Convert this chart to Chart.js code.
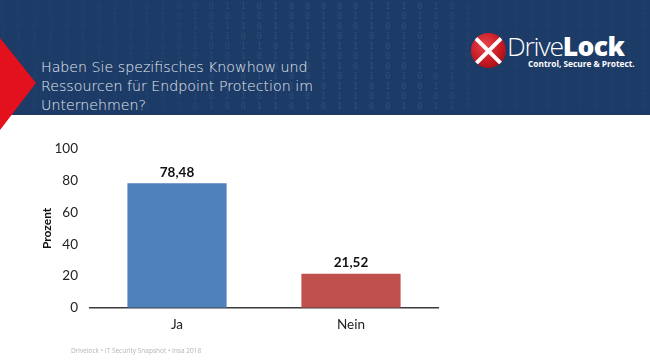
<!DOCTYPE html>
<html>
<head>
<meta charset="utf-8">
<script src="https://cdn.jsdelivr.net/npm/chart.js@4.4.1/dist/chart.umd.min.js"></script>
<style>
  html, body { margin: 0; padding: 0; background: #fff; }
  #page { position: relative; width: 650px; height: 364px; overflow: hidden; background: #fff; }
  #header { position: absolute; left: 0; top: 0; width: 650px; height: 115px; background: #1c3b66; overflow: hidden; }
  #binary { position: absolute; left: 0; top: 1px; width: 650px; font: 9px 'DejaVu Sans Mono', monospace; line-height: 10px; letter-spacing: 2.6px; color: rgba(170, 195, 230, 0.13); white-space: pre;
    -webkit-mask-image: linear-gradient(90deg, rgba(0,0,0,0.3) 0%, rgba(0,0,0,0.45) 25%, #000 40%, #000 65%, rgba(0,0,0,0.3) 75%, rgba(0,0,0,0.4) 100%); }
  #redmark { position: absolute; left: 0; top: 38px; width: 36px; height: 92px; background: #e3101e; clip-path: polygon(0 0, 100% 49%, 0 100%); }
  #title { position: absolute; left: 41px; top: 58px; font: 200 14.2px 'DejaVu Sans', sans-serif; line-height: 19px; color: #e4e9f0; }
  #logo { position: absolute; left: 471px; top: 32px; width: 170px; height: 40px; }
  #logo .ball { position: absolute; left: 0; top: 1px; width: 35px; height: 35px; border-radius: 50%; background: radial-gradient(circle at 40% 35%, #e8444b 0%, #c41822 55%, #7c0c12 100%); overflow: hidden; }
  #logo .ball i { position: absolute; left: -4px; top: 15.5px; width: 43px; height: 4px; background: #fff; }
  #logo .ball i.a { transform: rotate(45deg); }
  #logo .ball i.b { transform: rotate(-45deg); }
  #logo .name { position: absolute; left: 36px; top: -4px; font: 300 26.5px 'Open Sans', sans-serif; color: #fff; letter-spacing: -1.2px; white-space: nowrap; }
  #logo .name b { font-weight: 800; letter-spacing: -0.6px; }
  #logo .tag { position: absolute; left: 57px; top: 26px; font: 700 8.3px 'Open Sans', sans-serif; color: #fff; white-space: nowrap; }
  #chartbox { position: absolute; left: 0; top: 115px; width: 650px; height: 249px; }
  #footer { position: absolute; left: 71px; top: 346px; font: 6.5px 'Open Sans', sans-serif; color: #b4b4b4; white-space: nowrap; }
</style>
</head>
<body>
<div id="page">
  <div id="header">
    <div id="binary">0 0 1 0 1 0 0 1 1 0 1 0 0 0 1 1 0 1 0 0 0 0 0 1 1 1 0 1 0 0 0 0 1 0 1 1 0 1 1 1 1 1 0 0 1 0 1 0 1 0 0 1 1 0 1 0 1 0 0 1 1 0 1
0 0 1 1 1 0 0 1 0 1 1 0 1 0 0 1 0 1 0 0 1 0 1 1 1 0 1 1 0 1 1 1 1 1 1 0 0 0 1 0 1 0 1 1 0 0 1 0 1 1 0 0 0 1 0 1 0 0 1 1 1 0 1
1 0 0 1 0 0 1 1 0 1 1 0 1 0 1 1 0 1 0 1 1 0 0 1 0 0 1 0 0 0 1 0 1 0 0 1 0 0 1 1 0 1 0 1 1 0 0 1 1 0 1 0 1 1 0 0 1 1 0 1 0 0 1
1 1 1 1 0 1 0 0 1 0 1 0 1 1 1 0 0 1 1 1 1 0 1 0 1 1 0 1 0 0 1 0 1 1 0 1 0 1 0 0 1 1 0 1 0 1 0 0 0 1 1 0 1 0 0 1 1 0 1 0 1 1 0
0 1 0 0 1 1 0 1 0 1 0 0 1 0 0 1 1 0 1 0 1 1 1 1 0 1 1 0 0 1 0 0 1 1 0 1 0 0 1 1 0 1 0 1 0 1 1 0 1 0 0 1 1 0 1 1 0 1 0 0 1 0 1
1 0 1 1 0 0 1 0 1 0 1 1 0 1 0 1 0 1 0 1 0 0 0 1 0 1 1 1 0 0 1 1 0 1 0 0 1 0 1 1 0 1 0 0 1 1 0 1 0 1 0 0 1 0 1 1 0 1 0 1 0 0 1
0 1 1 0 1 0 0 1 0 1 0 0 1 1 0 1 0 0 1 0 1 1 0 1 0 0 1 1 0 1 0 1 0 0 1 1 0 1 0 1 1 0 1 0 0 1 0 1 1 0 1 0 0 1 1 0 1 0 1 0 1 1 0
1 0 0 1 1 0 1 0 1 1 0 1 0 0 1 0 1 1 0 0 1 0 1 1 0 1 0 0 1 0 1 1 0 1 0 0 1 1 0 1 0 1 0 0 1 1 0 1 0 1 1 0 1 0 0 1 1 0 1 0 0 1 1
0 0 1 0 1 1 0 1 0 0 1 1 0 1 0 1 0 0 1 1 0 1 1 0 1 0 0 1 0 1 0 1 1 0 1 0 0 1 1 0 1 0 1 1 0 0 1 0 1 0 1 1 0 1 0 0 1 0 1 1 0 1 0
1 1 0 1 0 0 1 0 1 1 0 0 1 0 1 1 0 1 0 0 1 1 1 0 1 0 1 0 0 1 1 0 1 0 1 0 0 1 0 1 1 0 1 0 1 0 0 1 1 0 1 0 1 0 0 1 0 1 1 0 1 0 1
0 1 0 0 1 1 0 1 0 0 1 1 0 1 0 0 1 1 0 1 0 1 1 0 0 1 0 1 1 0 1 0 0 1 0 1 1 0 1 0 0 1 1 0 1 0 1 1 0 1 0 0 1 0 1 1 0 1 0 0 1 1 0</div>
    <div id="title">Haben Sie spezifisches Knowhow und<br>Ressourcen für Endpoint Protection im<br>Unternehmen?</div>
    <div id="logo">
      <div class="ball"><i class="a"></i><i class="b"></i></div>
      <div class="name">Drive<b>Lock</b></div>
      <div class="tag">Control, Secure &amp; Protect.</div>
    </div>
  </div>
  <div id="redmark"></div>
  <div id="chartbox"><canvas id="chart" width="650" height="249"></canvas></div>
  <div id="footer">Drivelock • IT Security Snapshot • Insa 2018</div>
</div>
<script>
const categories = ['Ja', 'Nein'];
const values = [78.48, 21.52];
const barColors = ['#4f81bd', '#c0504d'];
const yTicks = [0, 20, 40, 60, 80, 100];
const yTitle = 'Prozent';

const fmt = (v) => v.toFixed(2).replace('.', ',');

const valueLabels = {
  id: 'valueLabels',
  afterDatasetsDraw(chart) {
    const c = chart.ctx;
    const meta = chart.getDatasetMeta(0);
    c.save();
    c.font = 'bold 13.5px Lato, sans-serif';
    c.fillStyle = '#111';
    c.textAlign = 'center';
    c.textBaseline = 'middle';
    meta.data.forEach((bar, i) => {
      c.fillText(fmt(values[i]), bar.x, bar.y - 11);
    });
    c.restore();
  }
};

new Chart(document.getElementById('chart').getContext('2d'), {
  type: 'bar',
  data: {
    labels: categories,
    datasets: [{
      data: values,
      backgroundColor: barColors,
      borderWidth: 0,
      categoryPercentage: 1,
      barPercentage: 0.57
    }]
  },
  options: {
    responsive: false,
    animation: false,
    layout: { padding: { left: 36, right: 212, top: 34, bottom: 22 } },
    plugins: {
      legend: { display: false },
      tooltip: { enabled: false }
    },
    scales: {
      x: {
        grid: { display: false, drawTicks: false },
        border: { display: true, color: '#3a3a3a', width: 1.5 },
        ticks: { color: '#222', padding: 9, font: { family: 'Lato', size: 13.5 } }
      },
      y: {
        min: 0,
        max: 100,
        afterBuildTicks: (scale) => { scale.ticks = yTicks.map(v => ({ value: v })); },
        afterFit: (scale) => { scale.width = 54; },
        grid: { display: false, drawTicks: false },
        border: { display: false },
        ticks: { color: '#222', padding: 12, font: { family: 'Lato', size: 13.5 } },
        title: { display: true, text: yTitle, color: '#111', font: { family: 'Lato', size: 12, weight: 'bold' }, padding: 4 }
      }
    }
  },
  plugins: [valueLabels]
});
</script>
</body>
</html>
